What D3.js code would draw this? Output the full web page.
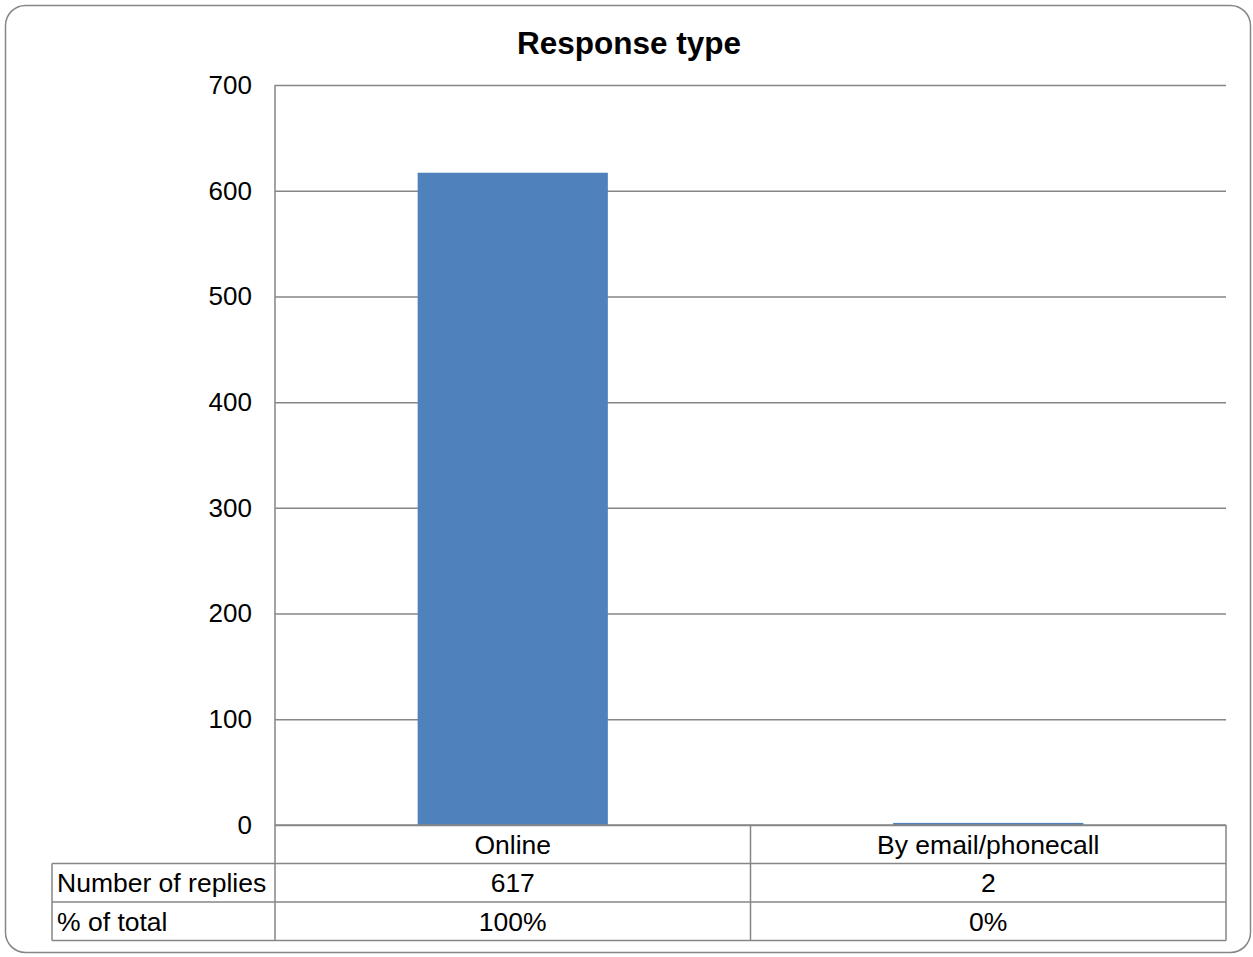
<!DOCTYPE html>
<html>
<head>
<meta charset="utf-8">
<script src="https://cdn.jsdelivr.net/npm/d3@7"></script>
<style>
  body { margin: 0; background: #fff; }
  svg text { font-family: "Liberation Sans", Arial, sans-serif; fill: #000; }
</style>
</head>
<body>
<div class="js-chart"></div>
<script>
'use strict';

// chart data
const categories = ['Online', 'By email/phonecall'];
const replies = [617, 2];
const percentOfTotal = ['100%', '0%'];
const rowLabels = ['Number of replies', '% of total'];
const yTicks = [0, 100, 200, 300, 400, 500, 600, 700];

const svgWidth = 1253;
const svgHeight = 957;
const gridColor = '#868686';
const barColor = '#4F81BD';

const plotLeft = 275;
const plotRight = 1226;
const plotTop = 85;
const plotBottom = 825;
const tableLeft = 52;
const rowHeight = 38.5;

const svg = d3.select('.js-chart')
  .append('svg')
  .attr('width', svgWidth)
  .attr('height', svgHeight);

// outer frame
svg.append('rect')
  .attr('x', 5.5)
  .attr('y', 5.5)
  .attr('width', 1245)
  .attr('height', 947)
  .attr('rx', 20)
  .attr('fill', '#fff')
  .attr('stroke', gridColor)
  .attr('stroke-width', 1.5);

svg.append('text')
  .attr('x', 629)
  .attr('y', 54)
  .attr('text-anchor', 'middle')
  .style('font-size', '31.5px')
  .style('font-weight', 'bold')
  .text('Response type');

const xScale = d3.scaleBand()
  .domain(categories)
  .range([plotLeft, plotRight])
  .paddingInner(0.6)
  .paddingOuter(0.3);

const yScale = d3.scaleLinear()
  .domain([0, 700])
  .range([plotBottom, plotTop]);

// gridlines + tick labels
const yAxis = d3.axisLeft(yScale)
  .tickValues(yTicks)
  .tickSize(-(plotRight - plotLeft))
  .tickPadding(23);

const yG = svg.append('g')
  .attr('transform', `translate(${plotLeft},0)`)
  .call(yAxis);

yG.select('.domain').remove();
yG.selectAll('.tick line')
  .attr('stroke', gridColor)
  .attr('stroke-width', 1.5);
yG.selectAll('.tick text')
  .style('font-size', '26px')
  .style('font-family', '"Liberation Sans", Arial, sans-serif')
  .attr('fill', '#000');

// bars
svg.selectAll('rect.bar')
  .data(replies)
  .enter()
  .append('rect')
  .classed('bar', true)
  .attr('x', (d, i) => xScale(categories[i]))
  .attr('y', d => yScale(d))
  .attr('width', xScale.bandwidth())
  .attr('height', d => yScale(0) - yScale(d))
  .attr('fill', barColor);

// data table
const table = svg.append('g');
const step = xScale.step();
const cellLeft = (i) => plotLeft + i * step;

const lineStyle = sel => sel.attr('stroke', gridColor).attr('stroke-width', 1.5);

// vertical axis line and column separators
table.append('line')
  .attr('x1', plotLeft).attr('x2', plotLeft)
  .attr('y1', plotTop).attr('y2', plotBottom + rowHeight * 3)
  .call(lineStyle);

categories.forEach((c, i) => {
  table.append('line')
    .attr('x1', cellLeft(i + 1)).attr('x2', cellLeft(i + 1))
    .attr('y1', plotBottom).attr('y2', plotBottom + rowHeight * 3)
    .call(lineStyle);
});

// horizontal lines
table.append('line')
  .attr('x1', plotLeft).attr('x2', plotRight)
  .attr('y1', plotBottom).attr('y2', plotBottom)
  .call(lineStyle);

[1, 2, 3].forEach(r => {
  table.append('line')
    .attr('x1', tableLeft).attr('x2', plotRight)
    .attr('y1', plotBottom + rowHeight * r).attr('y2', plotBottom + rowHeight * r)
    .call(lineStyle);
});

table.append('line')
  .attr('x1', tableLeft).attr('x2', tableLeft)
  .attr('y1', plotBottom + rowHeight).attr('y2', plotBottom + rowHeight * 3)
  .call(lineStyle);

const cellText = (x, row, txt, anchor) => {
  table.append('text')
    .attr('x', x)
    .attr('y', plotBottom + rowHeight * row + rowHeight / 2)
    .attr('dy', '0.35em')
    .attr('text-anchor', anchor)
    .style('font-size', '26.5px')
    .text(txt);
};

categories.forEach((c, i) => {
  const cx = xScale(c) + xScale.bandwidth() / 2;
  cellText(cx, 0, c, 'middle');
  cellText(cx, 1, replies[i], 'middle');
  cellText(cx, 2, percentOfTotal[i], 'middle');
});

rowLabels.forEach((lbl, r) => {
  cellText(tableLeft + 5, r + 1, lbl, 'start');
});
</script>
</body>
</html>
